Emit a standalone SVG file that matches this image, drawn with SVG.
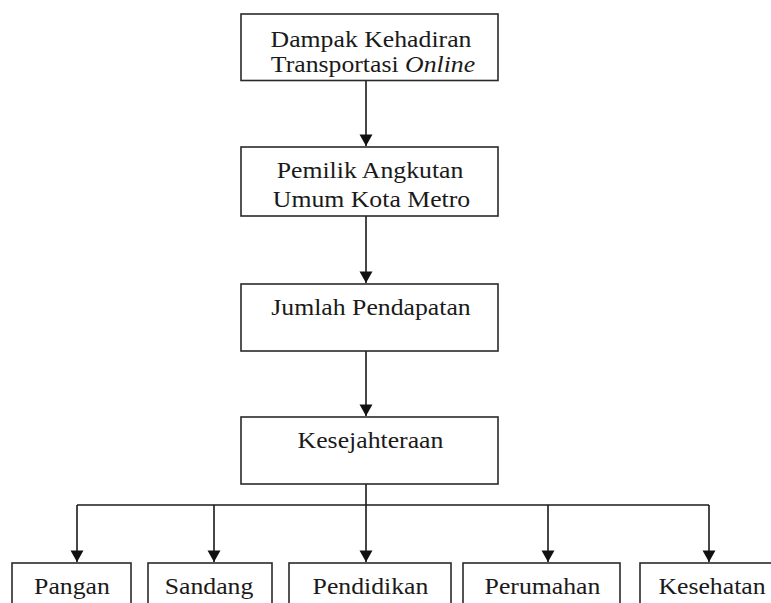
<svg xmlns="http://www.w3.org/2000/svg" width="771" height="603" viewBox="0 0 771 603">
<style>
.box{fill:#fff;stroke:#2a2a2a;stroke-width:1.6}
.t{font-family:"Liberation Serif","Times New Roman",serif;font-size:23px;fill:#1a1a1a;text-anchor:middle}
.c{fill:none;stroke:#1a1a1a;stroke-width:1.6}
</style>
<defs>
<marker id="ad" markerUnits="userSpaceOnUse" markerWidth="14" markerHeight="13" viewBox="0 0 14 13" refX="7" refY="12" orient="0">
<path d="M0.5,0.5 L13.5,0.5 L7,12 Z" fill="#111"/>
</marker>
</defs>
<rect width="771" height="603" fill="#fff"/>
<g id="connectors">
<path class="c" d="M366,80.5 V146" marker-end="url(#ad)"/>
<path class="c" d="M366,216 V283" marker-end="url(#ad)"/>
<path class="c" d="M366,351 V416" marker-end="url(#ad)"/>
<path class="c" d="M366,484 V562" marker-end="url(#ad)"/>
<path class="c" d="M77,505 H709"/>
<path class="c" d="M77,505 V562" marker-end="url(#ad)"/>
<path class="c" d="M214,505 V562" marker-end="url(#ad)"/>
<path class="c" d="M548,505 V562" marker-end="url(#ad)"/>
<path class="c" d="M709,505 V562" marker-end="url(#ad)"/>
</g>
<g id="n1">
<rect class="box" x="241" y="14" width="257" height="66.5"/>
<text class="t" transform="translate(371,47) scale(1.12,1)">Dampak Kehadiran</text>
<text class="t" transform="translate(373,72) scale(1.12,1)">Transportasi <tspan font-style="italic">Online</tspan></text>
</g>
<g id="n2">
<rect class="box" x="241" y="147" width="257" height="69"/>
<text class="t" transform="translate(370,178) scale(1.12,1)">Pemilik Angkutan</text>
<text class="t" transform="translate(371.5,207) scale(1.12,1)">Umum Kota Metro</text>
</g>
<g id="n3">
<rect class="box" x="241" y="284" width="257" height="67"/>
<text class="t" transform="translate(371,315) scale(1.12,1)">Jumlah Pendapatan</text>
</g>
<g id="n4">
<rect class="box" x="241" y="417" width="257" height="67"/>
<text class="t" transform="translate(370.5,448) scale(1.12,1)">Kesejahteraan</text>
</g>
<g id="n5">
<rect class="box" x="12" y="563" width="119" height="60"/>
<text class="t" transform="translate(72,594) scale(1.12,1)">Pangan</text>
</g>
<g id="n6">
<rect class="box" x="148" y="563" width="124" height="60"/>
<text class="t" transform="translate(209,594) scale(1.12,1)">Sandang</text>
</g>
<g id="n7">
<rect class="box" x="289" y="563" width="162" height="60"/>
<text class="t" transform="translate(370.5,594) scale(1.12,1)">Pendidikan</text>
</g>
<g id="n8">
<rect class="box" x="463" y="563" width="157" height="60"/>
<text class="t" transform="translate(542.5,594) scale(1.12,1)">Perumahan</text>
</g>
<g id="n9">
<rect class="box" x="640" y="563" width="144" height="60"/>
<text class="t" transform="translate(712,594) scale(1.12,1)">Kesehatan</text>
</g>
</svg>
